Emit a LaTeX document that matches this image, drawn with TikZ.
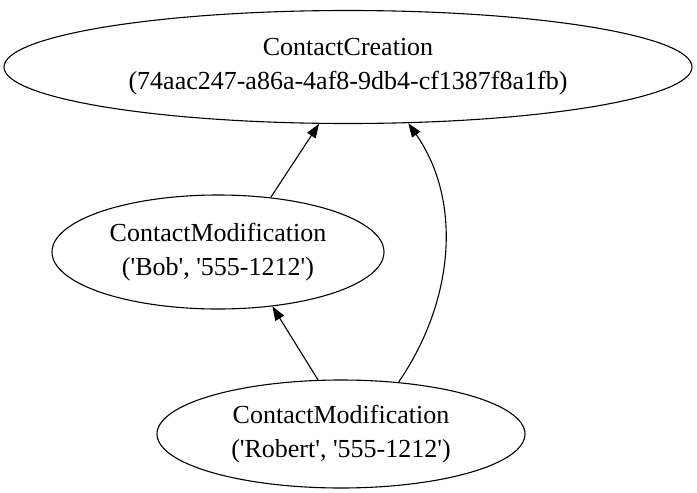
\documentclass[tikz,border=0pt]{standalone}
\usepackage{fontspec}
\setmainfont{Liberation Serif}
\usepackage{tikz}
\usetikzlibrary{shapes.geometric, arrows.meta, positioning}
\newcommand{\sq}{\textquotesingle}

\begin{document}
\begin{tikzpicture}[x=1pt, y=1pt, font=\fontsize{26}{34}\selectfont,
  evt/.style={draw, ellipse, line width=1.1pt, inner sep=0pt, align=center},
  arr/.style={-{Triangle[length=14pt, width=10pt]}, line width=1.1pt}]
  \useasboundingbox (0,0) rectangle (697,-493);
  \node[evt, minimum width=688, minimum height=113] (creation) at (348,-67)
    {ContactCreation\\(74aac247-a86a-4af8-9db4-cf1387f8a1fb)};
  \node[evt, minimum width=332, minimum height=114] (bob) at (218,-252)
    {ContactModification\\(\sq Bob\sq, \sq 555-1212\sq)};
  \node[evt, minimum width=368, minimum height=108] (robert) at (341,-434)
    {ContactModification\\(\sq Robert\sq, \sq 555-1212\sq)};
  \draw[arr] (bob.46) -- (creation.243);
  \draw[arr] (robert.113) -- (bob.315);
  \draw[arr] (robert.42) .. controls (455,-300) and (462,-200) .. (creation.317);
\end{tikzpicture}
\end{document}
